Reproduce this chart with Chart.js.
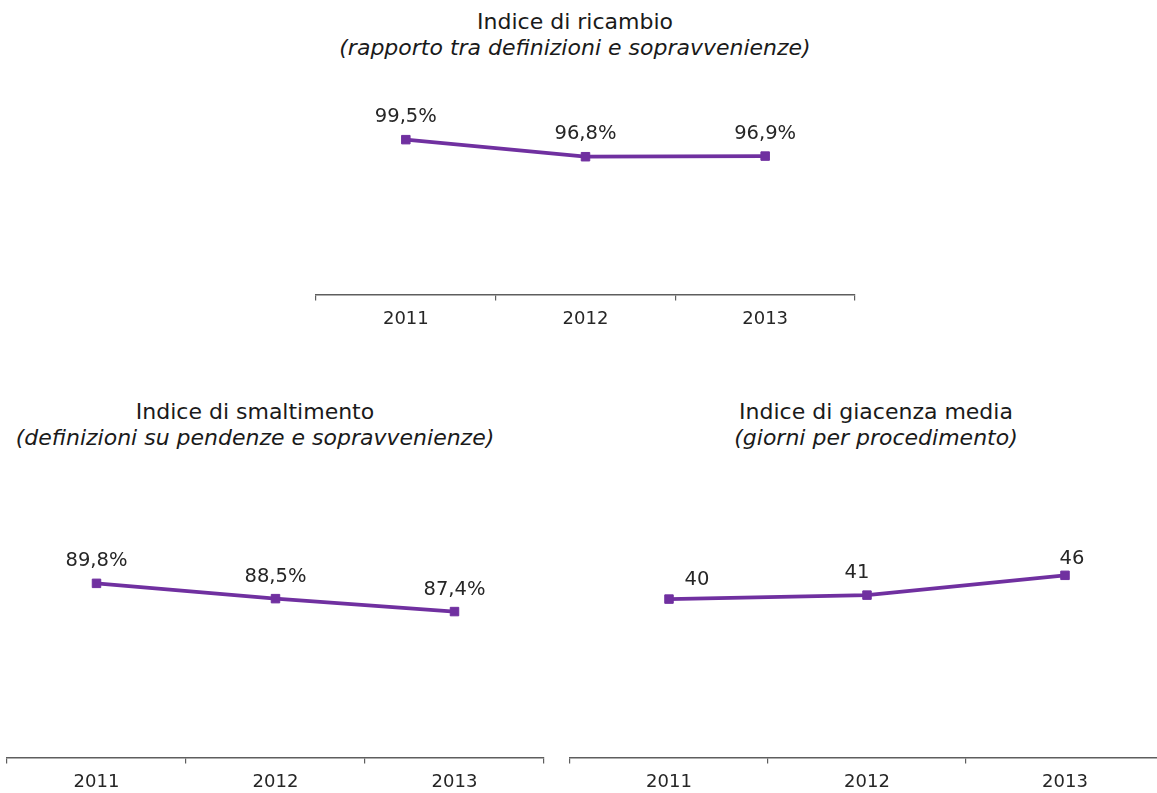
<!DOCTYPE html>
<html lang="it">
<head>
<meta charset="utf-8">
<title>Indici di ricambio, smaltimento e giacenza media</title>
<script src="https://cdn.jsdelivr.net/npm/chart.js@4.4.1/dist/chart.umd.min.js"></script>
<style>
  html, body { margin: 0; padding: 0; background: #ffffff; }
  body { position: relative; width: 1157px; height: 793px; overflow: hidden; font-family: "DejaVu Sans", Verdana, sans-serif; }
  canvas { position: absolute; }
  .titolo { position: absolute; width: 600px; text-align: center; font-size: 22px; line-height: 26px; color: #1a1a1a; white-space: nowrap; }
  .titolo em { font-style: italic; }
</style>
</head>
<body>
<div class="titolo" style="left:275px; top:9px;">Indice di ricambio<br><em>(rapporto tra definizioni e sopravvenienze)</em></div>
<div class="titolo" style="left:-45px; top:399px;">Indice di smaltimento<br><em>(definizioni su pendenze e sopravvenienze)</em></div>
<div class="titolo" style="left:576px; top:399px;">Indice di giacenza media<br><em>(giorni per procedimento)</em></div>

<canvas id="ricambio" width="560" height="280" style="left:306px; top:60px;"></canvas>
<canvas id="smaltimento" width="556" height="282" style="left:0px; top:520px;"></canvas>
<canvas id="giacenza" width="620" height="282" style="left:560px; top:520px;"></canvas>

<script>
// Anni di riferimento
const years = ['2011', '2012', '2013'];

// Indice di ricambio (%)
const ricambio = [99.5, 96.8, 96.9];
// Indice di smaltimento (%)
const smaltimento = [89.8, 88.5, 87.4];
// Indice di giacenza media (giorni)
const giacenza = [40, 41, 46];

const PURPLE = '#7030A0';
const TEXT = '#262626';
const AXIS = '#5e5e5e';
const FONT = '"DejaVu Sans", Verdana, sans-serif';

const pct = v => v.toFixed(1).replace('.', ',') + '%';
const int = v => String(Math.round(v));

// Etichette dei valori sopra ciascun punto
const valueLabels = {
  id: 'valueLabels',
  afterDatasetsDraw(chart, args, opts) {
    const ctx = chart.ctx;
    const ds = chart.data.datasets[0];
    const meta = chart.getDatasetMeta(0);
    ctx.save();
    ctx.font = opts.size + 'px ' + FONT;
    ctx.fillStyle = TEXT;
    ctx.textAlign = 'center';
    ctx.textBaseline = 'middle';
    meta.data.forEach((pt, i) => {
      const off = opts.offsets[i];
      ctx.fillText(opts.format(ds.data[i]), pt.x + off[0], pt.y + off[1]);
    });
    ctx.restore();
  }
};

function lineChart(id, values, yMin, yMax, format, offsets, padding) {
  return new Chart(document.getElementById(id), {
    type: 'line',
    data: {
      labels: years,
      datasets: [{
        data: values,
        borderColor: PURPLE,
        backgroundColor: PURPLE,
        borderWidth: 3.8,
        tension: 0,
        pointStyle: 'rect',
        pointRadius: 6,
        pointBorderWidth: 1,
        pointBackgroundColor: PURPLE,
        pointBorderColor: PURPLE,
        clip: false
      }]
    },
    options: {
      responsive: false,
      animation: false,
      devicePixelRatio: 1,
      layout: { padding: padding },
      plugins: {
        legend: { display: false },
        title: { display: false },
        tooltip: { enabled: false },
        valueLabels: { format: format, offsets: offsets, size: 19.5 }
      },
      scales: {
        x: {
          offset: true,
          grid: {
            display: true,
            offset: true,
            drawOnChartArea: false,
            drawTicks: true,
            tickLength: 6,
            color: AXIS,
            lineWidth: 1.2
          },
          border: { display: true, color: AXIS, width: 1.5 },
          ticks: { color: TEXT, padding: 8, font: { family: FONT, size: 18 } }
        },
        y: { display: false, min: yMin, max: yMax }
      }
    },
    plugins: [valueLabels]
  });
}

lineChart('ricambio', ricambio, 75, 100, pct,
  [[0, -23], [0, -23], [0, -22]],
  { left: 10, right: 11, top: 76.5, bottom: 2 });

lineChart('smaltimento', smaltimento, 75, 90, pct,
  [[0, -22], [0, -22], [0, -22]],
  { left: 6, right: 12, top: 61, bottom: 1 });

lineChart('giacenza', giacenza, 0, 50, int,
  [[28, -19], [-10, -22], [7, -16]],
  { left: 10, right: 16, top: 39.5, bottom: 1 });
</script>
</body>
</html>
